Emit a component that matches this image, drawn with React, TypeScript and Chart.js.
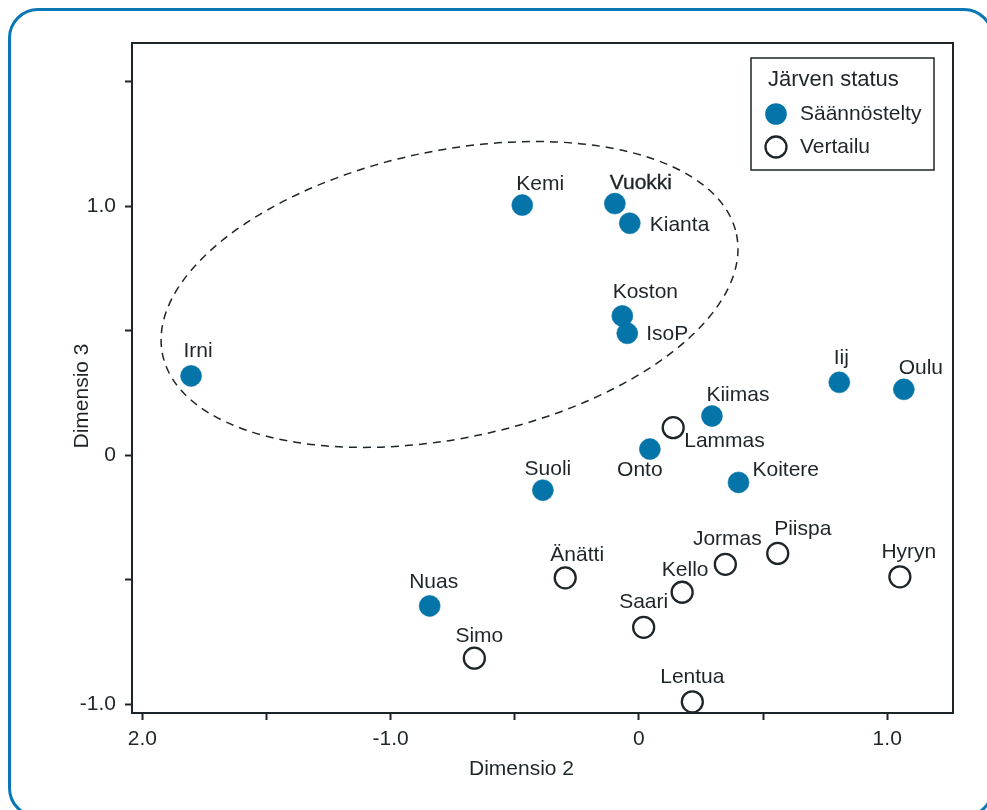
import React, { useEffect, useRef } from "react";
import { Chart, registerables } from "chart.js";

Chart.register(...registerables);

// Regulated lakes (Säännöstelty)
const regulatedNames = ["Irni", "Kemi", "Vuokki", "Kianta", "Koston", "IsoP", "Kiimas", "Onto", "Suoli", "Koitere", "Iij", "Oulu", "Nuas"];
const regulatedDim2 = [-1.804, -0.47, -0.097, -0.037, -0.067, -0.047, 0.294, 0.044, -0.387, 0.401, 0.807, 1.067, -0.843];
const regulatedDim3 = [0.318, 1.004, 1.01, 0.931, 0.559, 0.489, 0.157, 0.024, -0.141, -0.11, 0.292, 0.264, -0.606];

// Reference lakes (Vertailu)
const referenceNames = ["Lammas", "Änätti", "Simo", "Saari", "Kello", "Jormas", "Piispa", "Hyryn", "Lentua"];
const referenceDim2 = [0.138, -0.297, -0.663, 0.019, 0.174, 0.348, 0.559, 1.051, 0.215];
const referenceDim3 = [0.11, -0.493, -0.816, -0.692, -0.551, -0.439, -0.395, -0.489, -0.991];

// Axis ticks
const xTickValues = [-2, -1.5, -1, -0.5, 0, 0.5, 1];
const xTickText = ["2.0", "", "-1.0", "", "0", "", "1.0"];
const yTickValues = [-1, -0.5, 0, 0.5, 1, 1.5];
const yTickText = ["-1.0", "", "0", "", "1.0", ""];

// Dashed grouping ellipse (centre and semi-axes in data units, tilt in degrees)
const groupEllipse = { cx: -0.763, cy: 0.645, rx: 1.181, ry: 0.577, tilt: 11.85 };

// Label placement around each marker: [dx, dy, align]
const labelPlacement: Record<string, [number, number, CanvasTextAlign]> = {
  Irni: [7, -25, "center"],
  Kemi: [18, -21, "center"],
  Vuokki: [26, -20, "center"],
  Kianta: [20, 2, "left"],
  Koston: [23, -24, "center"],
  IsoP: [19, 1, "left"],
  Kiimas: [26, -21, "center"],
  Onto: [-10, 21, "center"],
  Suoli: [5, -21, "center"],
  Koitere: [14, -12, "left"],
  Iij: [2, -24, "center"],
  Oulu: [17, -21, "center"],
  Nuas: [4, -24, "center"],
  Lammas: [11, 14, "left"],
  "Änätti": [12, -23, "center"],
  Simo: [5, -22, "center"],
  Saari: [0, -25, "center"],
  Kello: [3, -22, "center"],
  Jormas: [2, -25, "center"],
  Piispa: [25, -24, "center"],
  Hyryn: [9, -25, "center"],
  Lentua: [0, -25, "center"],
};

const INK = "#1e2529";
const BLUE = "#0474a9";
const FONT = '"Liberation Sans", Arial, Helvetica, sans-serif';

const decorations = {
  id: "decorations",
  beforeDatasetsDraw(chart: any) {
    const { ctx } = chart;
    const xs = chart.scales.x;
    const ys = chart.scales.y;
    const cx = xs.getPixelForValue(groupEllipse.cx);
    const cy = ys.getPixelForValue(groupEllipse.cy);
    const pxX = Math.abs(xs.getPixelForValue(1) - xs.getPixelForValue(0));
    const pxY = Math.abs(ys.getPixelForValue(1) - ys.getPixelForValue(0));
    ctx.save();
    ctx.beginPath();
    ctx.ellipse(cx, cy, groupEllipse.rx * pxX, groupEllipse.ry * pxY, (-groupEllipse.tilt * Math.PI) / 180, 0, Math.PI * 2);
    ctx.setLineDash([8, 6]);
    ctx.lineWidth = 1.5;
    ctx.strokeStyle = INK;
    ctx.stroke();
    ctx.restore();
  },
  afterDatasetsDraw(chart: any) {
    const { ctx, chartArea } = chart;
    ctx.save();

    // point labels
    ctx.font = `21px ${FONT}`;
    ctx.fillStyle = INK;
    ctx.textBaseline = "middle";
    const groups = [regulatedNames, referenceNames];
    groups.forEach((names, di) => {
      const meta = chart.getDatasetMeta(di);
      names.forEach((name, i) => {
        const el = meta.data[i];
        const [dx, dy, align] = labelPlacement[name];
        ctx.textAlign = align;
        ctx.fillText(name, el.x + dx, el.y + dy);
        if (name === "Vuokki") {
          ctx.lineWidth = 0.35;
          ctx.strokeStyle = INK;
          ctx.strokeText(name, el.x + dx, el.y + dy);
        }
      });
    });

    // plot frame
    ctx.lineWidth = 2;
    ctx.strokeStyle = INK;
    ctx.strokeRect(chartArea.left, chartArea.top, chartArea.right - chartArea.left, chartArea.bottom - chartArea.top);

    // axis titles
    ctx.font = `21px ${FONT}`;
    ctx.textAlign = "center";
    ctx.textBaseline = "middle";
    ctx.fillText("Dimensio 2", (chartArea.left + chartArea.right) / 2 - 21, chartArea.bottom + 56);
    ctx.save();
    ctx.translate(chartArea.left - 50, (chartArea.top + chartArea.bottom) / 2 + 18);
    ctx.rotate(-Math.PI / 2);
    ctx.fillText("Dimensio 3", 0, 0);
    ctx.restore();

    // legend
    const lx = chartArea.right - 202;
    const ly = chartArea.top + 15;
    ctx.lineWidth = 1.5;
    ctx.strokeRect(lx, ly, 183, 112);
    ctx.textAlign = "left";
    ctx.font = `22px ${FONT}`;
    ctx.fillText("Järven status", lx + 17, ly + 22);
    ctx.font = `21px ${FONT}`;
    ctx.beginPath();
    ctx.arc(lx + 25, ly + 56, 10.8, 0, Math.PI * 2);
    ctx.fillStyle = BLUE;
    ctx.fill();
    ctx.fillStyle = INK;
    ctx.fillText("Säännöstelty", lx + 49, ly + 56);
    ctx.beginPath();
    ctx.arc(lx + 25, ly + 89, 10.5, 0, Math.PI * 2);
    ctx.fillStyle = "#ffffff";
    ctx.fill();
    ctx.lineWidth = 2.3;
    ctx.strokeStyle = INK;
    ctx.stroke();
    ctx.fillStyle = INK;
    ctx.fillText("Vertailu", lx + 49, ly + 89);

    ctx.restore();
  },
};

export default function App() {
  const canvasRef = useRef<HTMLCanvasElement | null>(null);

  useEffect(() => {
    if (!canvasRef.current) return;
    const tickFont = { family: FONT, size: 21 };
    const chart = new Chart(canvasRef.current, {
      type: "scatter",
      data: {
        datasets: [
          {
            label: "Säännöstelty",
            data: regulatedDim2.map((x, i) => ({ x, y: regulatedDim3[i] })),
            pointRadius: 10.5,
            pointBackgroundColor: BLUE,
            pointBorderColor: BLUE,
            pointBorderWidth: 0.6,
          },
          {
            label: "Vertailu",
            data: referenceDim2.map((x, i) => ({ x, y: referenceDim3[i] })),
            pointRadius: 10.5,
            pointBackgroundColor: "#ffffff",
            pointBorderColor: INK,
            pointBorderWidth: 2.3,
          },
        ],
      },
      options: {
        animation: false,
        responsive: false,
        devicePixelRatio: 1,
        events: [],
        layout: { padding: { left: 0, top: 43, right: 34, bottom: 0 } },
        plugins: { legend: { display: false }, tooltip: { enabled: false } },
        scales: {
          x: {
            type: "linear",
            min: -2.042,
            max: 1.265,
            afterBuildTicks: (scale: any) => {
              scale.ticks = xTickValues.map((value) => ({ value }));
            },
            afterFit: (scale: any) => {
              scale.height = 97;
            },
            ticks: {
              autoSkip: false,
              maxRotation: 0,
              padding: 7,
              color: INK,
              font: tickFont,
              callback: (_v: any, i: number) => xTickText[i],
            },
            grid: { drawOnChartArea: false, drawTicks: true, tickLength: 7, tickWidth: 2, tickColor: INK },
            border: { display: true, color: INK, width: 2 },
          },
          y: {
            type: "linear",
            min: -1.036,
            max: 1.655,
            afterBuildTicks: (scale: any) => {
              scale.ticks = yTickValues.map((value) => ({ value }));
            },
            afterFit: (scale: any) => {
              scale.width = 132;
            },
            ticks: {
              autoSkip: false,
              padding: 9,
              color: INK,
              font: tickFont,
              callback: (_v: any, i: number) => yTickText[i],
            },
            grid: { drawOnChartArea: false, drawTicks: true, tickLength: 7, tickWidth: 2, tickColor: INK },
            border: { display: true, color: INK, width: 2 },
          },
        },
      },
      plugins: [decorations],
    } as any);
    return () => chart.destroy();
  }, []);

  return (
    <div style={{ position: "absolute", left: 0, top: 0, width: 987, height: 810, overflow: "hidden", background: "#ffffff" }}>
      <div
        style={{
          position: "absolute",
          left: 8,
          top: 8,
          width: 986,
          height: 810,
          boxSizing: "border-box",
          border: "3px solid #0a78b5",
          borderRadius: 30,
        }}
      />
      <canvas ref={canvasRef} width={987} height={810} style={{ position: "absolute", left: 0, top: 0, width: 987, height: 810 }} />
    </div>
  );
}
